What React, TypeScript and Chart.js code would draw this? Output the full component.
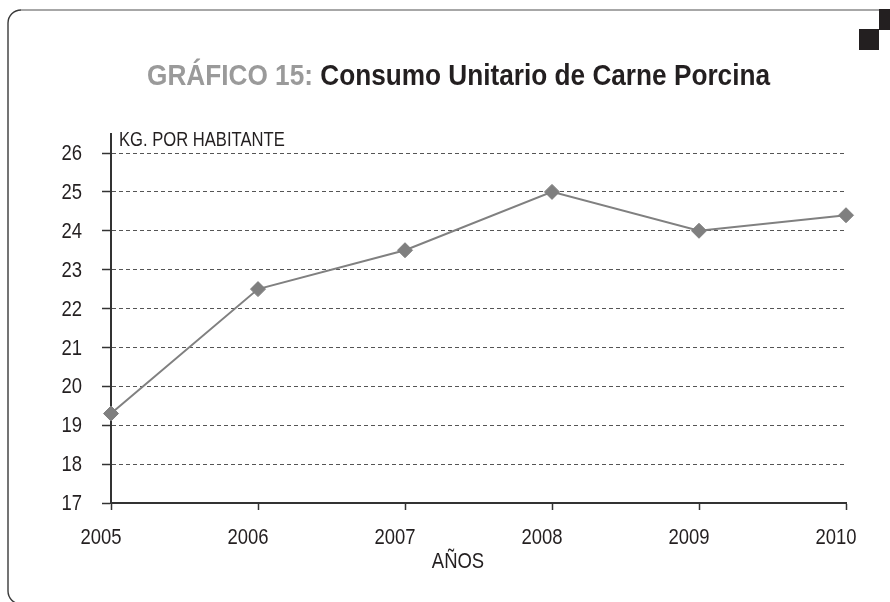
import React, { useEffect, useRef } from "react";
import { Chart, registerables } from "chart.js";

Chart.register(...registerables);

const years = ["2005", "2006", "2007", "2008", "2009", "2010"];
const consumo = [19.3, 22.5, 23.5, 25.0, 24.0, 24.4];
const yMin = 17;
const yMax = 26;
const titlePart1 = "GRÁFICO 15: ";
const titlePart2 = "Consumo Unitario de Carne Porcina";
const yUnitLabel = "KG. POR HABITANTE";
const xAxisLabel = "AÑOS";

const FONT = '"Liberation Sans", Arial, sans-serif';
const DARK = "#231f20";
const SQUEEZE = 0.84;

function drawCondensed(
  ctx: CanvasRenderingContext2D,
  text: string,
  x: number,
  y: number,
  align: "left" | "right" | "center",
  font: string,
  sx: number,
  baseline: CanvasTextBaseline = "alphabetic"
) {
  ctx.save();
  ctx.font = font;
  ctx.textBaseline = baseline;
  ctx.textAlign = "left";
  const w = ctx.measureText(text).width * sx;
  let left = x;
  if (align === "right") left = x - w;
  else if (align === "center") left = x - w / 2;
  ctx.translate(left, y);
  ctx.scale(sx, 1);
  ctx.fillText(text, 0, 0);
  ctx.restore();
}

const decorPlugin = {
  id: "decor",
  beforeDraw(chart: any) {
    const ctx = chart.ctx as CanvasRenderingContext2D;
    ctx.save();
    ctx.fillStyle = "#ffffff";
    ctx.fillRect(0, 0, chart.width, chart.height);
    const r = 13;
    ctx.lineWidth = 1.4;
    ctx.strokeStyle = "#8a8a8a";
    ctx.beginPath();
    ctx.moveTo(879, 10);
    ctx.lineTo(8 + r, 10);
    ctx.stroke();
    ctx.strokeStyle = "#3a3a3a";
    ctx.beginPath();
    ctx.moveTo(8 + r, 10);
    ctx.arcTo(8, 10, 8, 10 + r, r);
    ctx.lineTo(8, 604 - r);
    ctx.arcTo(8, 604, 8 + r, 604, r);
    ctx.lineTo(880, 604);
    ctx.stroke();
    ctx.fillStyle = DARK;
    ctx.fillRect(879, 9, 11, 21);
    ctx.fillRect(859, 29, 20, 21);
    ctx.restore();
  },
  afterDraw(chart: any) {
    const ctx = chart.ctx as CanvasRenderingContext2D;
    const area = chart.chartArea;
    // title
    ctx.save();
    ctx.font = `bold 29px ${FONT}`;
    ctx.textBaseline = "alphabetic";
    ctx.textAlign = "left";
    const w1 = ctx.measureText(titlePart1).width;
    const w2 = ctx.measureText(titlePart2).width;
    const target = 623;
    const sx = target / (w1 + w2);
    ctx.translate(458.5 - target / 2, 85);
    ctx.scale(sx, 1);
    ctx.fillStyle = "#9a9a9a";
    ctx.fillText(titlePart1, 0, 0);
    ctx.fillStyle = DARK;
    ctx.fillText(titlePart2, w1, 0);
    ctx.restore();

    // y-axis extension above top gridline
    ctx.save();
    ctx.strokeStyle = "#333333";
    ctx.lineWidth = 2;
    ctx.beginPath();
    ctx.moveTo(area.left, 133);
    ctx.lineTo(area.left, area.top);
    ctx.stroke();
    ctx.restore();

    ctx.save();
    ctx.fillStyle = DARK;
    drawCondensed(ctx, yUnitLabel, area.left + 8, 146, "left", `20px ${FONT}`, 0.83);
    drawCondensed(ctx, xAxisLabel, 458, 568, "center", `22px ${FONT}`, SQUEEZE);

    // tick labels from the library's scales
    const xs = chart.scales.x;
    xs.ticks.forEach((t: any, i: number) => {
      const px = xs.getPixelForTick(i);
      drawCondensed(ctx, String(xs.getLabelForValue(t.value)), px - 10, 538, "center", `22px ${FONT}`, SQUEEZE, "middle");
    });
    const ys = chart.scales.y;
    ys.ticks.forEach((t: any, i: number) => {
      const py = ys.getPixelForTick(i);
      drawCondensed(ctx, String(t.label), 82, py + 1, "right", `22px ${FONT}`, SQUEEZE, "middle");
    });
    ctx.restore();
  },
};

export default function App() {
  const ref = useRef<HTMLCanvasElement | null>(null);
  useEffect(() => {
    if (!ref.current) return;
    const chart = new Chart(ref.current, {
      type: "line",
      data: {
        labels: years,
        datasets: [
          {
            data: consumo,
            borderColor: "#808080",
            backgroundColor: "#7f7f7f",
            borderWidth: 2,
            pointStyle: "rectRot",
            pointRadius: 7.5,
            pointHoverRadius: 7.5,
            pointBackgroundColor: "#7f7f7f",
            pointBorderColor: "#7f7f7f",
            pointBorderWidth: 1,
            tension: 0,
            clip: false,
          } as any,
        ],
      },
      options: {
        animation: false,
        responsive: false,
        maintainAspectRatio: false,
        layout: { padding: { top: 153, left: 0, right: 44, bottom: 0 } },
        plugins: {
          legend: { display: false },
          title: { display: false },
          tooltip: { enabled: false },
        },
        scales: {
          x: {
            type: "category",
            offset: false,
            grid: {
              display: true,
              drawOnChartArea: false,
              drawTicks: true,
              tickLength: 7,
              tickColor: "#333333",
              tickWidth: 1.5,
            },
            border: { display: true, color: "#333333", width: 2 },
            ticks: {
              display: false,
              autoSkip: false,
              maxRotation: 0,
            },
            afterFit(scale: any) {
              scale.height = 99;
            },
          },
          y: {
            min: yMin,
            max: yMax,
            grid: {
              display: true,
              drawOnChartArea: true,
              drawTicks: true,
              tickLength: 9,
              color: "#555555",
              lineWidth: 1,
              tickColor: "#333333",
              tickWidth: 1.5,
              tickBorderDash: [],
            } as any,
            border: { display: true, color: "#333333", width: 2, dash: [4, 3] },
            ticks: {
              display: false,
              stepSize: 1,
            },
            afterFit(scale: any) {
              scale.width = 111;
            },
          },
        },
      },
      plugins: [decorPlugin],
    });
    return () => chart.destroy();
  }, []);
  return (
    <div style={{ position: "fixed", left: 0, top: 0, width: 890, height: 602, background: "#fff" }}>
      <canvas ref={ref} width={890} height={602} style={{ width: 890, height: 602, display: "block" }} />
    </div>
  );
}
